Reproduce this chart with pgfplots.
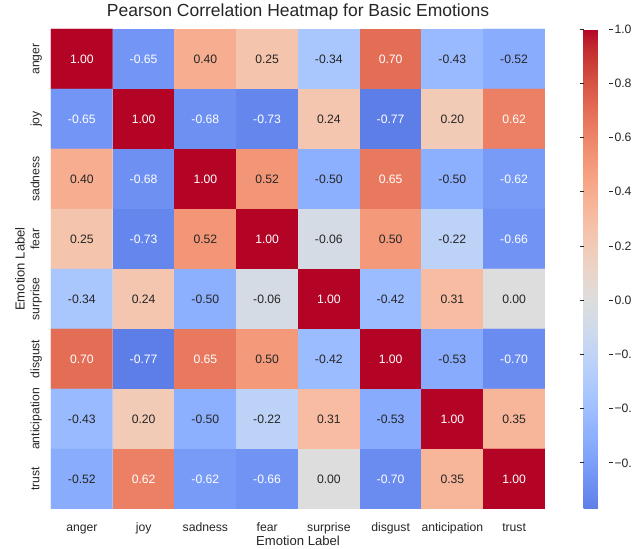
\documentclass[border=0pt]{standalone}
\usepackage{fontspec}
\setmainfont{Liberation Sans}
\usepackage{pgfplots}
\usepackage{pgfplotstable}
\pgfplotsset{compat=1.18}
\definecolor{txt}{RGB}{38,38,38}

% coolwarm centred on 0 (range -1..1), cut to the data range -0.77..1
% position = (value+0.77)*100 pt
\pgfplotsset{colormap={coolwarmcut}{
  rgb(0pt)=(0.3701,0.4932,0.9066)
  rgb(2pt)=(0.38301334,0.50941904,0.917387822)
  rgb(8.25pt)=(0.424369608,0.558148092,0.945619588)
  rgb(14.5pt)=(0.46666708,0.604562568,0.968154911)
  rgb(20.75pt)=(0.509635204,0.648280772,0.98478814)
  rgb(27pt)=(0.552953156,0.688929332,0.995375608)
  rgb(33.25pt)=(0.596262162,0.726149107,0.999836203)
  rgb(39.5pt)=(0.639176211,0.759599947,0.998151185)
  rgb(45.75pt)=(0.681291281,0.788964712,0.990363227)
  rgb(52pt)=(0.722193294,0.813952739,0.976574709)
  rgb(58.25pt)=(0.761464949,0.834302879,0.956945269)
  rgb(64.5pt)=(0.798691636,0.849786142,0.931688648)
  rgb(70.75pt)=(0.833466556,0.860207984,0.901068838)
  rgb(77pt)=(0.865395197,0.86541021,0.865395561)
  rgb(83.25pt)=(0.897787179,0.848937047,0.820880546)
  rgb(89.5pt)=(0.924127593,0.827384882,0.774508472)
  rgb(95.75pt)=(0.944468518,0.800927443,0.726736146)
  rgb(102pt)=(0.958852946,0.769767752,0.678007945)
  rgb(108.25pt)=(0.96732803,0.734132809,0.628751763)
  rgb(114.5pt)=(0.969954137,0.694266682,0.579375448)
  rgb(120.75pt)=(0.966811177,0.650421156,0.530263762)
  rgb(127pt)=(0.958003065,0.602842431,0.481775914)
  rgb(133.25pt)=(0.943660866,0.551750968,0.434243684)
  rgb(139.5pt)=(0.923944917,0.49730856,0.387970225)
  rgb(145.75pt)=(0.89904617,0.439559467,0.343229596)
  rgb(152pt)=(0.869186849,0.378313092,0.300267182)
  rgb(158.25pt)=(0.834620542,0.312874446,0.259301199)
  rgb(164.5pt)=(0.795631745,0.24128379,0.220525627)
  rgb(170.75pt)=(0.752534934,0.157246067,0.184115123)
  rgb(177pt)=(0.705673158,0.01555616,0.150232812)
}}

% x y value whitetext
\pgfplotstableread{
x y c w
0 0 1.00 1
1 0 -0.65 1
2 0 0.40 0
3 0 0.25 0
4 0 -0.34 0
5 0 0.70 1
6 0 -0.43 0
7 0 -0.52 0
0 1 -0.65 1
1 1 1.00 1
2 1 -0.68 1
3 1 -0.73 1
4 1 0.24 0
5 1 -0.77 1
6 1 0.20 0
7 1 0.62 1
0 2 0.40 0
1 2 -0.68 1
2 2 1.00 1
3 2 0.52 0
4 2 -0.50 0
5 2 0.65 1
6 2 -0.50 0
7 2 -0.62 1
0 3 0.25 0
1 3 -0.73 1
2 3 0.52 0
3 3 1.00 1
4 3 -0.06 0
5 3 0.50 0
6 3 -0.22 0
7 3 -0.66 1
0 4 -0.34 0
1 4 0.24 0
2 4 -0.50 0
3 4 -0.06 0
4 4 1.00 1
5 4 -0.42 0
6 4 0.31 0
7 4 0.00 0
0 5 0.70 1
1 5 -0.77 1
2 5 0.65 1
3 5 0.50 0
4 5 -0.42 0
5 5 1.00 1
6 5 -0.53 0
7 5 -0.70 1
0 6 -0.43 0
1 6 0.20 0
2 6 -0.50 0
3 6 -0.22 0
4 6 0.31 0
5 6 -0.53 0
6 6 1.00 1
7 6 0.35 0
0 7 -0.52 0
1 7 0.62 1
2 7 -0.62 1
3 7 -0.66 1
4 7 0.00 0
5 7 -0.70 1
6 7 0.35 0
7 7 1.00 1
}\corr

\newcommand{\tickfont}{\fontsize{12.2}{14}\selectfont}

\begin{document}
\begin{tikzpicture}
\begin{axis}[
  name=main,
  scale only axis,
  width=494pt, height=480pt,
  xmin=-0.5, xmax=7.5, ymin=-0.5, ymax=7.5,
  y dir=reverse,
  enlargelimits=false,
  axis line style={draw=none},
  major tick length=0pt,
  tick style={draw=none},
  xtick={0,...,7}, ytick={0,...,7},
  xticklabels={anger,joy,sadness,fear,surprise,disgust,anticipation,trust},
  yticklabels={anger,joy,sadness,fear,surprise,disgust,anticipation,trust},
  tick label style={font=\tickfont, text=txt},
  xticklabel style={anchor=base, yshift=-22.5pt},
  yticklabel style={xshift=-11.5pt, rotate=90, anchor=base},
  title={Pearson Correlation Heatmap for Basic Emotions},
  title style={font=\fontsize{17.5}{20}\selectfont, text=txt,
    at={(0.5,1)}, anchor=base, yshift=6.3pt},
  xlabel={Emotion Label}, ylabel={Emotion Label},
  every axis x label/.style={at={(axis description cs:0.5,0)},
    anchor=base, yshift=-36.5pt, font=\fontsize{13.1}{15}\selectfont, text=txt},
  every axis y label/.style={at={(axis description cs:0,0.5)},
    xshift=-26.3pt, rotate=90, anchor=base, font=\fontsize{13.1}{15}\selectfont, text=txt},
  colormap name=coolwarmcut,
  point meta min=-0.77, point meta max=1,
  colorbar,
  colorbar style={
    scale only axis,
    width=25pt,
    at={(parent axis.north east)}, anchor=north west, xshift=30pt,
    axis line style={draw=none},
    ytick={-0.6,-0.4,-0.2,0,0.2,0.4,0.6,0.8,1},
    yticklabels={−0.6,−0.4,−0.2,0.0,0.2,0.4,0.6,0.8,1.0},
    tick align=outside,
    major tick length=4pt,
    tick style={draw=txt, line width=0.8pt},
    yticklabel style={font=\tickfont, text=txt, xshift=-1.5pt},
  },
]
\addplot[matrix plot*, mesh/cols=8, mesh/rows=8, point meta=explicit]
  table[x=x, y=y, meta=c]{\corr};
% annotations, dark text
\addplot[draw=none, mark=none, point meta=explicit symbolic,
  restrict expr to domain={\thisrow{w}}{-0.5:0.5},
  nodes near coords, nodes near coords align=center,
  every node near coord/.append style={font=\tickfont, text=txt, anchor=center}]
  table[x=x, y=y, meta=c]{\corr};
% annotations, white text
\addplot[draw=none, mark=none, point meta=explicit symbolic,
  restrict expr to domain={\thisrow{w}}{0.5:1.5},
  nodes near coords, nodes near coords align=center,
  every node near coord/.append style={font=\tickfont, text=white, anchor=center}]
  table[x=x, y=y, meta=c]{\corr};
\end{axis}
\pgfresetboundingbox
\path ([shift={(-51pt,-40pt)}]main.south west) rectangle ([shift={(581pt,29pt)}]main.north west);
\end{tikzpicture}
\end{document}
